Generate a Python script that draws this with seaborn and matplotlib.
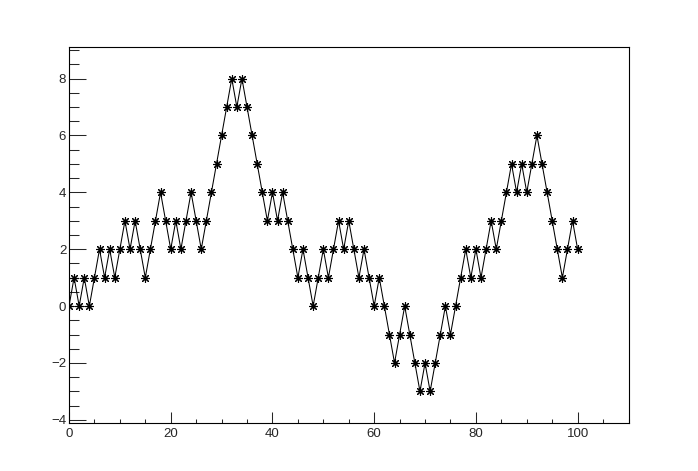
import numpy as np
import pandas as pd
import matplotlib
matplotlib.use("Agg")
import matplotlib.pyplot as plt
import seaborn as sns
from matplotlib.ticker import MultipleLocator

# Data: random-walk values
steps = list(range(0, 101))
values = [0, 1, 0, 1, 0, 1, 2, 1, 2, 1,
          2, 3, 2, 3, 2, 1, 2, 3, 4, 3,
          2, 3, 2, 3, 4, 3, 2, 3, 4, 5,
          6, 7, 8, 7, 8, 7, 6, 5, 4, 3,
          4, 3, 4, 3, 2, 1, 2, 1, 0, 1,
          2, 1, 2, 3, 2, 3, 2, 1, 2, 1,
          0, 1, 0, -1, -2, -1, 0, -1, -2, -3,
          -2, -3, -2, -1, 0, -1, 0, 1, 2, 1,
          2, 1, 2, 3, 2, 3, 4, 5, 4, 5,
          4, 5, 6, 5, 4, 3, 2, 1, 2, 3,
          2]
x_ticks = [0, 20, 40, 60, 80, 100]
y_ticks = [-4, -2, 0, 2, 4, 6, 8]

df = pd.DataFrame({"x": steps, "y": values})

sns.set_style("ticks")
plt.rcParams['font.family'] = ['Liberation Sans', 'DejaVu Sans']

fig = plt.figure(figsize=(6.98, 4.71), dpi=100)
ax = fig.add_axes([69 / 698, 1 - 422.7 / 471, (628.5 - 69) / 698, (422.7 - 47.3) / 471])

sns.lineplot(data=df, x="x", y="y", ax=ax, color="black", linewidth=0.75,
             marker=(8, 2, 0), markersize=6.2, markeredgewidth=0.8,
             markeredgecolor="black", markerfacecolor="black",
             sort=False, estimator=None)

ax.set_xlim(0, 110)
ax.set_ylim(-4.1, 9.1)
ax.set_xticks(x_ticks)
ax.set_yticks(y_ticks)
ax.xaxis.set_minor_locator(MultipleLocator(5))
ax.yaxis.set_minor_locator(MultipleLocator(0.5))
ax.set_xlabel("")
ax.set_ylabel("")

for side in ["top", "right", "left", "bottom"]:
    ax.spines[side].set_visible(True)
    ax.spines[side].set_linewidth(0.8)
    ax.spines[side].set_color("black")

ax.tick_params(axis="x", which="major", direction="in", length=8, width=0.75,
               labelsize=9.5, pad=4, top=False)
ax.tick_params(axis="x", which="minor", direction="in", length=3.2, width=0.75, top=False)
ax.tick_params(axis="y", which="major", direction="in", length=12.3, width=0.75,
               labelsize=9.5, pad=2, right=False)
ax.tick_params(axis="y", which="minor", direction="in", length=7, width=0.75, right=False)

fig.savefig("out.png", dpi=100)
